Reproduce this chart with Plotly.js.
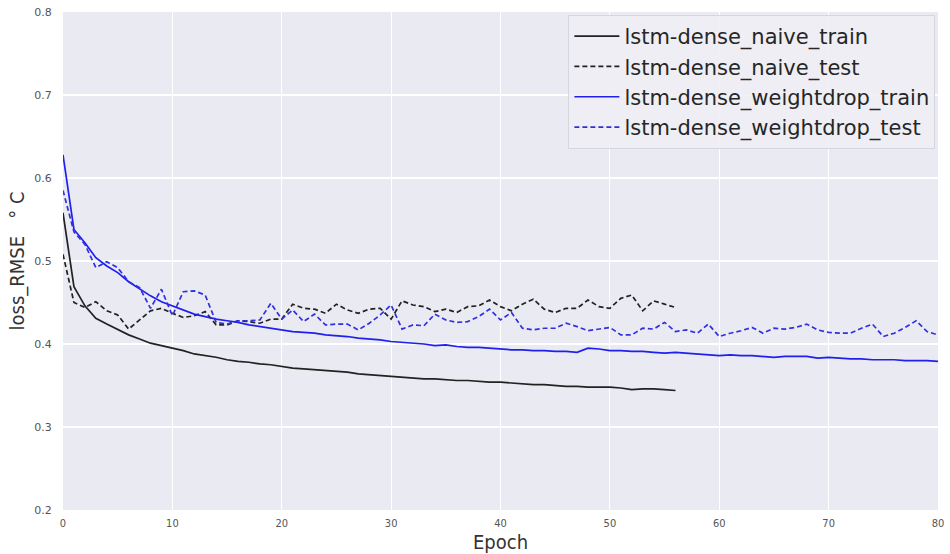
<!DOCTYPE html>
<html>
<head>
<meta charset="utf-8">
<script src="https://cdn.plot.ly/plotly-3.0.1.min.js"></script>
<style>html,body{margin:0;padding:0;background:#fff;}#chart{width:950px;height:554px;}</style>
</head>
<body>
<div id="chart"></div>
<script>
const seriesNames = ["lstm-dense_naive_train", "lstm-dense_naive_test", "lstm-dense_weightdrop_train", "lstm-dense_weightdrop_test"];

const naiveTrain = [0.558,0.469,0.446,0.431,0.424,0.417,0.411,0.406,0.401,0.398,
  0.395,0.392,0.388,0.386,0.384,0.381,0.379,0.378,0.376,0.375,
  0.373,0.371,0.370,0.369,0.368,0.367,0.366,0.364,0.363,0.362,
  0.361,0.360,0.359,0.358,0.358,0.357,0.356,0.356,0.355,0.354,
  0.354,0.353,0.352,0.351,0.351,0.350,0.349,0.349,0.348,0.348,
  0.348,0.347,0.345,0.346,0.346,0.345,0.344];

const naiveTest = [0.508,0.450,0.444,0.451,0.440,0.435,0.418,0.429,0.440,0.443,
  0.437,0.432,0.434,0.439,0.423,0.423,0.428,0.427,0.425,0.430,
  0.430,0.448,0.443,0.442,0.437,0.448,0.441,0.437,0.442,0.443,
  0.430,0.452,0.447,0.445,0.439,0.442,0.438,0.445,0.446,0.453,
  0.445,0.440,0.448,0.454,0.442,0.438,0.443,0.443,0.453,0.445,
  0.443,0.455,0.459,0.440,0.452,0.448,0.444];

const weightdropTrain = [0.628,0.538,0.522,0.504,0.494,0.486,0.475,0.466,0.458,0.451,
  0.446,0.441,0.436,0.433,0.430,0.428,0.426,0.423,0.421,0.419,
  0.417,0.415,0.414,0.413,0.411,0.410,0.409,0.407,0.406,0.405,
  0.403,0.402,0.401,0.400,0.398,0.399,0.397,0.396,0.396,0.395,
  0.394,0.393,0.393,0.392,0.392,0.391,0.391,0.390,0.395,0.394,
  0.392,0.392,0.391,0.391,0.390,0.389,0.390,0.389,0.388,0.387,
  0.386,0.387,0.386,0.386,0.385,0.384,0.385,0.385,0.385,0.383,
  0.384,0.383,0.382,0.382,0.381,0.381,0.381,0.380,0.380,0.380,
  0.379];

const weightdropTest = [0.585,0.535,0.520,0.492,0.499,0.492,0.475,0.468,0.443,0.466,
  0.434,0.463,0.464,0.459,0.426,0.424,0.428,0.428,0.429,0.449,
  0.430,0.441,0.427,0.436,0.423,0.424,0.424,0.417,0.425,0.435,
  0.447,0.418,0.423,0.422,0.436,0.429,0.426,0.427,0.433,0.442,
  0.429,0.438,0.419,0.417,0.419,0.419,0.425,0.421,0.416,0.418,
  0.420,0.411,0.411,0.419,0.418,0.426,0.415,0.417,0.413,0.424,
  0.409,0.413,0.416,0.420,0.413,0.419,0.418,0.420,0.424,0.417,
  0.414,0.413,0.413,0.419,0.424,0.409,0.413,0.420,0.428,0.415,
  0.411];

const xTicks = [0,10,20,30,40,50,60,70,80];
const yTicks = [0.2,0.3,0.4,0.5,0.6,0.7,0.8];

const epochs = arr => arr.map((_, i) => i);

const traces = [
  {x: epochs(naiveTrain), y: naiveTrain, name: seriesNames[0], mode: 'lines',
   line: {color: '#222222', width: 1.7}},
  {x: epochs(naiveTest), y: naiveTest, name: seriesNames[1], mode: 'lines',
   line: {color: '#222222', width: 1.7, dash: '5px,3px'}},
  {x: epochs(weightdropTrain), y: weightdropTrain, name: seriesNames[2], mode: 'lines',
   line: {color: '#2020ee', width: 1.7}},
  {x: epochs(weightdropTest), y: weightdropTest, name: seriesNames[3], mode: 'lines',
   line: {color: '#3030e0', width: 1.7, dash: '5px,3px'}}
];

const layout = {
  width: 950, height: 554,
  margin: {l: 63, r: 12, t: 12, b: 44},
  paper_bgcolor: '#ffffff',
  plot_bgcolor: '#eaeaf2',
  font: {family: 'DejaVu Sans, sans-serif', color: '#333'},
  showlegend: true,
  legend: {x: 0.997, xanchor: 'right', y: 0.994, yanchor: 'top', xref: 'paper', yref: 'paper',
    bgcolor: 'rgba(238,238,244,0.9)', bordercolor: '#d6d6de', borderwidth: 1,
    font: {family: 'DejaVu Sans, sans-serif', size: 21, color: '#262626'},
    tracegroupgap: 0, itemwidth: 45},
  xaxis: {
    range: [0, 80], tickvals: xTicks, ticktext: xTicks.map(String),
    showgrid: true, gridcolor: '#ffffff', gridwidth: 1.2, zeroline: false,
    showline: false, ticks: 'outside', ticklen: 3, tickcolor: 'rgba(0,0,0,0)',
    tickfont: {family: 'DejaVu Sans Condensed, DejaVu Sans, sans-serif', size: 11, color: '#555'},
    title: {text: 'Epoch', font: {family: 'DejaVu Sans Condensed, DejaVu Sans, sans-serif', size: 20, color: '#333'}, standoff: 4}
  },
  yaxis: {
    range: [0.2, 0.8], tickvals: yTicks, ticktext: yTicks.map(v => v.toFixed(1)),
    showgrid: true, gridcolor: '#ffffff', gridwidth: 1.2, zeroline: false,
    showline: false, ticks: 'outside', ticklen: 8, tickcolor: 'rgba(0,0,0,0)',
    tickfont: {family: 'DejaVu Sans, sans-serif', size: 11, color: '#555'},
    title: {text: 'loss_RMSE   ° C', font: {family: 'DejaVu Sans Condensed, DejaVu Sans, sans-serif', size: 20, color: '#333'}, standoff: 4}
  }
};

Plotly.newPlot('chart', traces, layout, {displayModeBar: false, staticPlot: true});
</script>
</body>
</html>
